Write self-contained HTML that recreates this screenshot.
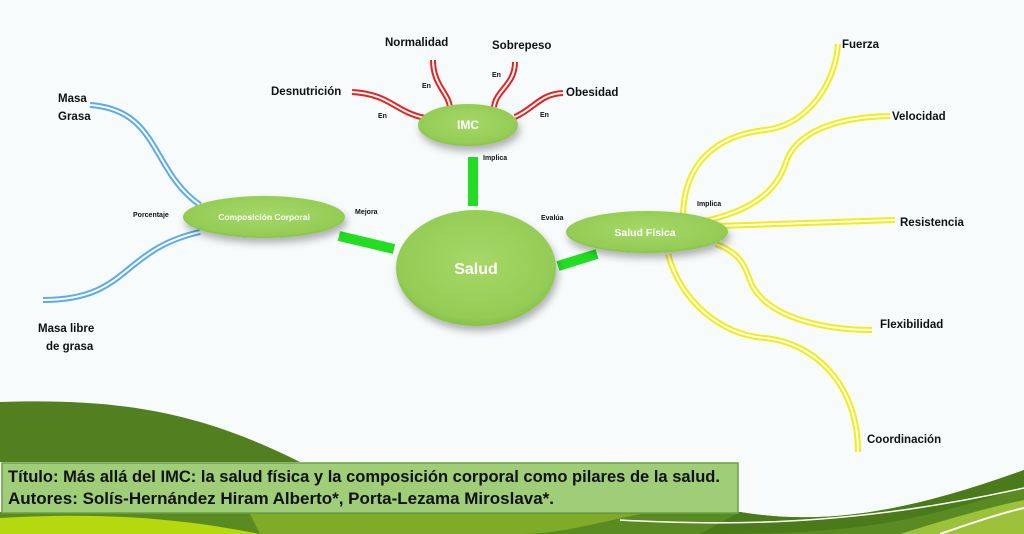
<!DOCTYPE html>
<html><head><meta charset="utf-8"><style>
html,body{margin:0;padding:0;background:#f8fbfc;}
svg{display:block;font-family:"Liberation Sans",sans-serif;}
</style></head><body>
<svg width="1024" height="534" viewBox="0 0 1024 534" xmlns="http://www.w3.org/2000/svg">
<defs>
<radialGradient id="g1" cx="50%" cy="45%" r="60%"><stop offset="0" stop-color="#a6d868"/><stop offset="0.8" stop-color="#94cc55"/><stop offset="1" stop-color="#7fbb3d"/></radialGradient>
<filter id="sh" x="-30%" y="-30%" width="160%" height="180%"><feDropShadow dx="2" dy="5" stdDeviation="4" flood-color="#000" flood-opacity="0.3"/></filter>
</defs>
<rect width="1024" height="534" fill="#f8fbfc"/>
<!-- bottom swooshes -->
<path d="M0 402 C120 398 200 412 300 462 L0 462 Z" fill="#527f1f"/>
<path d="M0 512 L740 512 C820 525 900 515 1024 470 L1024 534 L0 534 Z" fill="#5a8a22"/>
<path d="M740 512 C820 525 900 515 1024 470 L1024 486 C900 530 820 534 700 534 Z" fill="#4a7a1a"/>
<path d="M250 514 L640 514 C600 522 560 534 520 534 L260 534 Z" fill="#7fab28"/>
<path d="M0 518 C100 512 180 518 260 534 L0 534 Z" fill="#b6d80e"/>
<path d="M900 534 C960 515 1000 505 1024 500 L1024 534 Z" fill="#9cc23a"/>
<path d="M940 534 C980 520 1005 512 1024 508" stroke="#fff" stroke-width="2" fill="none"/>
<path d="M620 520 C760 528 880 520 1024 488" stroke="#fff" stroke-width="1.5" fill="none"/>
<!-- title box -->
<rect x="2" y="463" width="736" height="50" fill="#9fcd78" stroke="#6aa045" stroke-width="1.5"/>
<text x="8" y="482" font-size="16.5" font-weight="bold" fill="#111" textLength="712" lengthAdjust="spacingAndGlyphs">Título: Más allá del IMC: la salud física y la composición corporal como pilares de la salud.</text>
<text x="8" y="504" font-size="16.5" font-weight="bold" fill="#111" textLength="546" lengthAdjust="spacingAndGlyphs">Autores: Solís-Hernández Hiram Alberto*, Porta-Lezama Miroslava*.</text>

<!-- red lines -->
<g fill="none" stroke-linecap="butt">
<g stroke="#e82020" stroke-width="6">
<path d="M352 92 C390 94 395 112 425 118"/>
<path d="M433 60 C433 85 448 92 450 107"/>
<path d="M515 62 C515 85 496 90 494 107"/>
<path d="M563 93 C540 94 535 108 515 117"/>
</g>
<g stroke="#fff" stroke-width="2">
<path d="M352 92 C390 94 395 112 425 118"/>
<path d="M433 60 C433 85 448 92 450 107"/>
<path d="M515 62 C515 85 496 90 494 107"/>
<path d="M563 93 C540 94 535 108 515 117"/>
</g>
<!-- blue -->
<g stroke="#5aaaf0" stroke-width="6">
<path d="M90 105 C160 110 150 170 200 205"/>
<path d="M43 300 C130 300 120 250 200 232"/>
</g>
<g stroke="#fff" stroke-width="2">
<path d="M90 105 C160 110 150 170 200 205"/>
<path d="M43 300 C130 300 120 250 200 232"/>
</g>
<!-- yellow -->
<g stroke="#f2ee10" stroke-width="6">
<path d="M683 218 C683 160 720 135 765 130 C810 125 836 80 838 44"/>
<path d="M700 222 C760 210 778 185 785 165 C795 130 840 117 890 116"/>
<path d="M718 226 L895 220"/>
<path d="M716 244 C745 255 745 270 752 285 C770 320 830 330 872 330"/>
<path d="M668 254 C680 300 720 335 765 338 C810 342 858 380 858 452"/>
</g>
<g stroke="#fff" stroke-width="2">
<path d="M683 218 C683 160 720 135 765 130 C810 125 836 80 838 44"/>
<path d="M700 222 C760 210 778 185 785 165 C795 130 840 117 890 116"/>
<path d="M718 226 L895 220"/>
<path d="M716 244 C745 255 745 270 752 285 C770 320 830 330 872 330"/>
<path d="M668 254 C680 300 720 335 765 338 C810 342 858 380 858 452"/>
</g>
<!-- green connectors -->
<g stroke="#22dd22" stroke-width="10">
<path d="M473 157 L473 206"/>
<path d="M339 236 L394 249"/>
<path d="M558 266 L597 254"/>
</g>
</g>
<!-- nodes -->
<g filter="url(#sh)" fill="url(#g1)">
<ellipse cx="476" cy="268" rx="80" ry="58"/>
<ellipse cx="468" cy="125" rx="50" ry="21"/>
<ellipse cx="264" cy="217" rx="81" ry="21"/>
<ellipse cx="647" cy="232" rx="81" ry="21"/>
</g>
<g fill="#fff" font-weight="bold" text-anchor="middle">
<text x="476" y="274" font-size="16">Salud</text>
<text x="468" y="129" font-size="12">IMC</text>
<text x="264" y="220" font-size="8.5">Composición Corporal</text>
<text x="645" y="236" font-size="10.5">Salud Física</text>
</g>
<!-- labels -->
<g fill="#111" font-weight="bold" font-size="11.5">
<text x="385" y="46">Normalidad</text>
<text x="492" y="49">Sobrepeso</text>
<text x="271" y="95">Desnutrición</text>
<text x="566" y="96">Obesidad</text>
<text x="58" y="102">Masa</text>
<text x="58" y="120">Grasa</text>
<text x="38" y="332">Masa libre</text>
<text x="46" y="350">de grasa</text>
<text x="842" y="48">Fuerza</text>
<text x="892" y="120">Velocidad</text>
<text x="900" y="226">Resistencia</text>
<text x="880" y="328">Flexibilidad</text>
<text x="867" y="443">Coordinación</text>
</g>
<g fill="#111" font-weight="bold" font-size="7">
<text x="483" y="160">Implica</text>
<text x="355" y="214">Mejora</text>
<text x="541" y="220">Evalúa</text>
<text x="697" y="206">Implica</text>
<text x="133" y="217">Porcentaje</text>
<text x="378" y="118">En</text>
<text x="422" y="88">En</text>
<text x="492" y="77">En</text>
<text x="540" y="117">En</text>
</g>
</svg>
</body></html>
